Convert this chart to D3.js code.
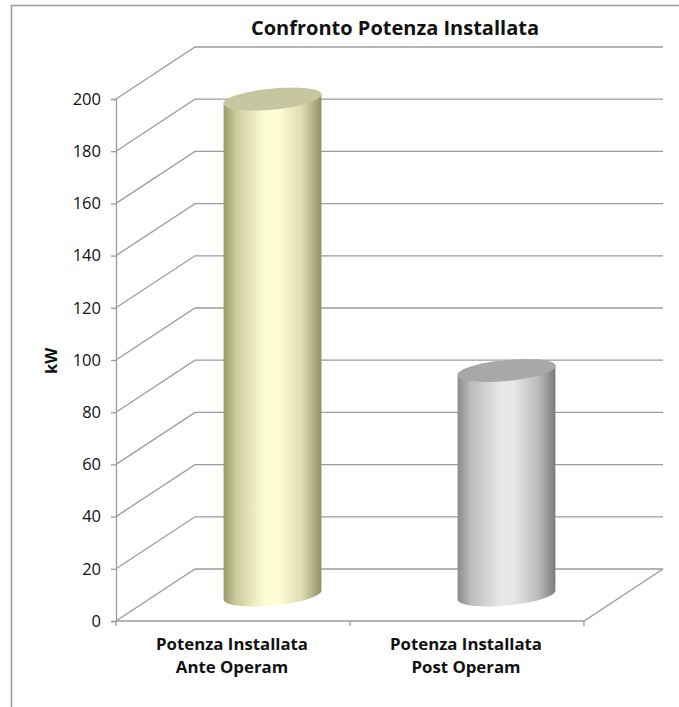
<!DOCTYPE html>
<html>
<head>
<meta charset="utf-8">
<script src="https://cdn.jsdelivr.net/npm/d3@7"></script>
<style>
  html, body { margin: 0; padding: 0; background: #fff; }
  svg { display: block; }
  text { font-family: "Open Sans", Lato, sans-serif; fill: #111; }
</style>
</head>
<body>
<svg id="chart" width="679" height="707"></svg>
<script>
// Installed power, before and after the intervention (kW)
const categories = [["Potenza Installata", "Ante Operam"], ["Potenza Installata", "Post Operam"]];
const values = [190, 86];
const yTicks = [0, 20, 40, 60, 80, 100, 120, 140, 160, 180, 200];
const chartTitle = "Confronto Potenza Installata";
const yTitle = "kW";

const svg = d3.select("#chart");
const W = 679, H = 707;

// Front plane of the 3D box and its depth offset
const front = { left: 116, right: 584, bottom: 621, top: 99 };
const depth = { dx: 79, dy: -52 };

const y = d3.scaleLinear().domain([0, 200]).range([front.bottom, front.top]);
const x = d3.scaleBand().domain(d3.range(categories.length)).range([front.left, front.right]);

const gridColor = "#9c9c9c";

// Outer frame
svg.append("path")
  .attr("d", `M11.5,${H + 2} L11.5,5.5 L${W + 2},5.5`)
  .attr("fill", "none").attr("stroke", "#9a9a9a").attr("stroke-width", 1.5);

// Title
svg.append("text")
  .attr("x", 395).attr("y", 35)
  .attr("text-anchor", "middle")
  .attr("font-family", "Lato, sans-serif")
  .attr("font-size", 20).attr("font-weight", "bold")
  .text(chartTitle);

const grid = svg.append("g").attr("stroke", gridColor).attr("stroke-width", 1.3).attr("fill", "none");

// Back-wall gridlines plus side-wall diagonals
yTicks.forEach(t => {
  const yf = y(t);
  grid.append("path")
    .attr("d", `M${front.left},${yf} L${front.left + depth.dx},${yf + depth.dy} L${front.right + depth.dx},${yf + depth.dy}`);
});

// Floor: front edge and right diagonal
grid.append("path")
  .attr("d", `M${front.left},${front.bottom} L${front.right},${front.bottom} L${front.right + depth.dx},${front.bottom + depth.dy}`);

// Value axis
const yAxis = d3.axisLeft(y).tickValues(yTicks).tickSize(5).tickPadding(10);
const gy = svg.append("g").attr("transform", `translate(${front.left},0)`).call(yAxis);
gy.select(".domain").attr("stroke", gridColor).attr("stroke-width", 1.3);
gy.selectAll(".tick line").attr("stroke", gridColor).attr("stroke-width", 1.3);
gy.selectAll(".tick text").attr("font-size", 16.5).attr("font-family", "Lato, sans-serif").attr("fill", "#222");

// Category axis ticks
const xTickPositions = [front.left, ...x.domain().slice(1).map(i => x(i)), front.right];
svg.append("g").selectAll("line").data(xTickPositions).join("line")
  .attr("x1", d => d).attr("x2", d => d)
  .attr("y1", front.bottom).attr("y2", front.bottom + 5)
  .attr("stroke", gridColor).attr("stroke-width", 1.3);

// Category labels
const lab = svg.append("g");
categories.forEach((lines, i) => {
  const cx = x(i) + x.bandwidth() / 2 - 1;
  const t = lab.append("text")
    .attr("x", cx)
    .attr("y", 650)
    .attr("text-anchor", "middle")
    .attr("font-size", 16.8).attr("font-weight", "bold");
  lines.forEach((l, k) => t.append("tspan").attr("x", cx).attr("dy", k === 0 ? 0 : 23).text(l));
});

// Value axis title
svg.append("text")
  .attr("transform", "translate(57,361) rotate(-90)")
  .attr("text-anchor", "middle")
  .attr("font-size", 16.5).attr("font-weight", "bold")
  .text(yTitle);

// Cylinder gradients
const defs = svg.append("defs");
const palettes = [
  { stops: [["0%", "#9a9a70"], ["12%", "#c9c99b"], ["40%", "#fbfbd2"], ["55%", "#fefed8"], ["80%", "#deddb0"], ["100%", "#909068"]], top: "#c6c6a0" },
  { stops: [["0%", "#8a8a8a"], ["14%", "#bdbdbd"], ["45%", "#e9e9e9"], ["58%", "#e6e6e6"], ["82%", "#bcbcbc"], ["100%", "#7c7c7c"]], top: "#a8a8a8" }
];
palettes.forEach((p, i) => {
  const g = defs.append("linearGradient").attr("id", "cyl" + i)
    .attr("x1", "0").attr("x2", "1").attr("y1", "0").attr("y2", "0");
  p.stops.forEach(s => g.append("stop").attr("offset", s[0]).attr("stop-color", s[1]));
});

// Cylinders sit at mid-depth; ellipses are slightly tilted by the perspective
const rx = x.bandwidth() * 0.21, ry = 10.5, tilt = -5.5 * Math.PI / 180;
function ellPt(cx, cy, t) {
  return [cx + rx * Math.cos(t) * Math.cos(tilt) - ry * Math.sin(t) * Math.sin(tilt),
          cy + rx * Math.cos(t) * Math.sin(tilt) + ry * Math.sin(t) * Math.cos(tilt)];
}

const line = d3.line();
const bars = svg.append("g");
values.forEach((v, i) => {
  const cx = x(i) + x.bandwidth() / 2 + depth.dx / 2;
  const yTop = y(v) + depth.dy / 2;
  const yBot = y(0) + depth.dy / 2;
  // body: front half of the base (left -> right), then back half of the top (right -> left)
  const basePts = d3.range(41).map(k => ellPt(cx, yBot, Math.PI - Math.PI * k / 40));
  const topBack = d3.range(41).map(k => ellPt(cx, yTop, -Math.PI * k / 40));
  bars.append("path")
    .attr("d", line([...basePts, ...topBack]) + "Z")
    .attr("fill", `url(#cyl${i})`);
  bars.append("path")
    .attr("d", line(d3.range(81).map(k => ellPt(cx, yTop, 2 * Math.PI * k / 80))) + "Z")
    .attr("fill", palettes[i].top);
});
</script>
</body>
</html>
